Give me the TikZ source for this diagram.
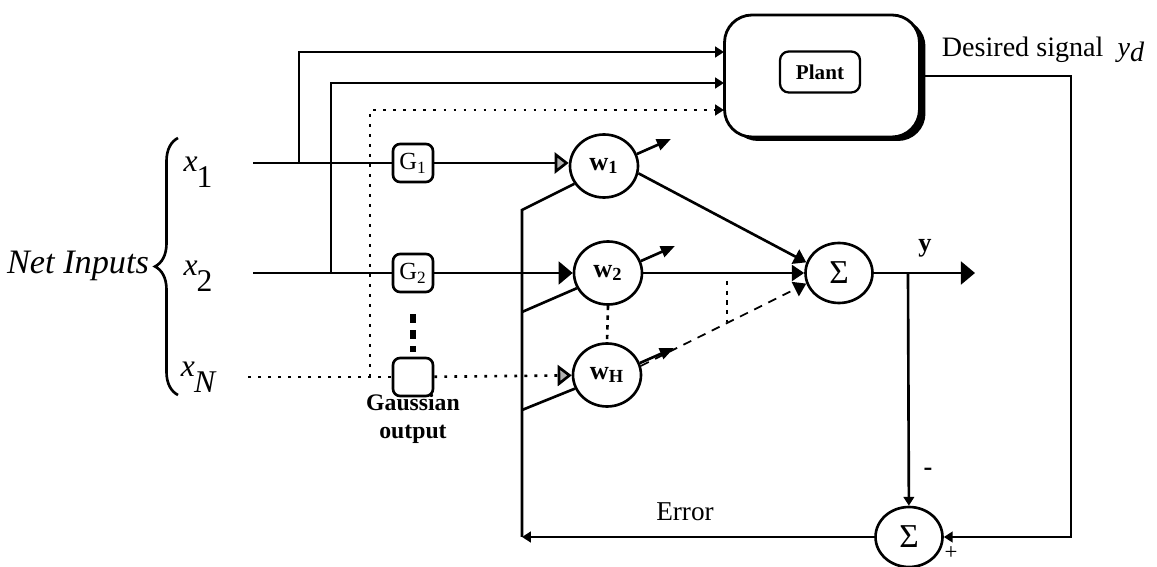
\documentclass[tikz,border=0pt]{standalone}
\usepackage{fontspec}
\setmainfont{Liberation Serif}
\usetikzlibrary{arrows.meta,shapes.geometric,shadows,decorations.pathreplacing}

% input label: raised x with its index on the baseline
\newcommand{\xlab}[1]{\fontsize{18}{18}\selectfont\raisebox{9pt}{\itshape x}\kern-0.5pt#1}

\begin{document}
\begin{tikzpicture}[x=0.02cm,y=-0.02cm,line width=1.5pt,
    neuron/.style={draw,ellipse,line width=1.5pt,minimum width=1.36cm,minimum height=1.26cm,inner sep=0pt,font=\fontsize{15}{15}\selectfont\bfseries},
    sumnode/.style={draw,ellipse,line width=1.5pt,minimum width=1.34cm,minimum height=1.2cm,inner sep=0pt,font=\fontsize{19}{19}\selectfont},
    gbox/.style={draw,rounded corners=4pt,line width=1.5pt,minimum width=0.8cm,minimum height=0.76cm,inner sep=0pt,font=\fontsize{14}{14}\selectfont},
    smalltri/.style={-{Triangle[length=5pt,width=6pt]}},
    bigtri/.style={-{Triangle[length=8pt,width=13pt]}},
    hatchtri/.style={-{Triangle[length=8pt,width=12pt,fill=gray!60]}},
    sumtri/.style={-{Triangle[length=7pt,width=9pt]}},
    adjtri/.style={-{Triangle[length=8pt,width=6.5pt]}},
    dots/.style={dash pattern=on 1.6pt off 4.1pt},
    ]
    \useasboundingbox (0,0) rectangle (1157,567);
    % inputs
    \node (netin) at (78,266) {\fontsize{19.5}{20}\selectfont\itshape Net Inputs};
    \draw [decorate,decoration={brace,amplitude=0.46cm}] (178,395) -- (178,138);
    \node (x1) at (198,172) {\xlab{1}};
    \node (x2) at (198,276) {\xlab{2}};
    \node (xN) at (198,377) {\xlab{\itshape N}};
    \coordinate (in1) at (253,163);
    \coordinate (in2) at (253,273);
    \coordinate (inN) at (248,377);
    % gaussian boxes
    \node [gbox] (G1) at (413,163) {G\textsubscript{1}};
    \node [gbox] (G2) at (413,273) {G\textsubscript{2}};
    \node [gbox] (GN) at (413,377) {};
    \node [align=center,font=\fontsize{13.5}{16}\selectfont\bfseries] (gauss) at (413,419) {Gaussian\\output};
    % weights and sums
    \node [neuron] (w1) at (604,166) {w\textsubscript{1}};
    \node [neuron] (w2) at (608,273) {w\textsubscript{2}};
    \node [neuron] (wH) at (607,375) {w\textsubscript{H}};
    \node [sumnode] (sum1) at (839,273) {Σ};
    \node [sumnode] (sum2) at (909,537) {Σ};
    % plant
    \node [draw,rounded corners=0.55cm,minimum width=3.9cm,minimum height=2.44cm,line width=1.6pt,fill=white,
        drop shadow={shadow xshift=0.12cm,shadow yshift=-0.08cm,opacity=1,fill=black}] (plant) at (822,76) {};
    \node [draw,rounded corners=5pt,minimum width=1.6cm,minimum height=0.82cm,line width=1.3pt,font=\fontsize{12}{12}\selectfont\bfseries] (plantlab) at (820,72) {Plant};
    % input lines
    \draw (in1) -- (G1);
    \draw (in2) -- (G2);
    \draw [dots] (inN) -- (GN);
    % feeds to plant
    \coordinate (b1) at (299,163);
    \coordinate (b2) at (331,273);
    \coordinate (bN) at (370,377);
    \coordinate (p1) at (724,52);
    \coordinate (p2) at (724,83);
    \coordinate (p3) at (724,110);
    \draw [smalltri] (b1) |- (p1);
    \draw [smalltri] (b2) |- (p2);
    \draw [dots,smalltri] (bN) |- (p3);
    % gaussian to weights
    \draw [hatchtri] (G1.east) -- (G1.east -| w1.west);
    \draw [bigtri] (G2) -- (w2);
    \draw [dots,hatchtri] (GN) -- (wH);
    \draw [line width=3pt,dash pattern=on 5pt off 4pt,shorten <=0.42cm,shorten >=0.1cm] (G2.south) -- (GN.north);
    \draw [dash pattern=on 2.5pt off 3pt] (w2.south) -- (wH.north);
    % adjustable weights
    \draw [adjtri] (w1.20) -- ++(34,-15);
    \draw [adjtri] (w2.20) -- ++(34,-15);
    \draw [adjtri] (wH.20) -- ++(34,-15);
    % weights to sum
    \draw [sumtri] (w1.-12) -- (sum1.162);
    \draw [sumtri] (w2) -- (sum1);
    \draw [sumtri,line width=1pt,dash pattern=on 5pt off 4pt] (wH.15) -- (sum1.198);
    \coordinate (m1) at (727,281);
    \coordinate (m2) at (727,322);
    \draw [dash pattern=on 2.5pt off 3pt] (m1) -- (m2);
    % output and error
    \coordinate (yend) at (975,273);
    \coordinate (ytap) at (908,273);
    \coordinate (ydturn) at (1071,537);
    \draw [bigtri] (sum1) -- (yend);
    \draw [smalltri] (ytap) -- (sum2);
    \draw [smalltri] (plant.east) -| (ydturn) -- (sum2);
    \coordinate (e0) at (522,537);
    \coordinate (e1) at (522,210);
    \coordinate (e2) at (522,312);
    \coordinate (e3) at (522,410);
    \draw [smalltri] (sum2) -- (e0);
    \draw (e0) -- (e1) -- (w1.211);
    \draw (e2) -- (w2.206);
    \draw (e3) -- (wH.203);
    % labels
    \node (ydlab) at (1043,50) {\fontsize{16}{16}\selectfont Desired signal\ \ \textit{y}\raisebox{-3pt}{\textit{d}}};
    \node (ylab) at (925,248) {\fontsize{15}{15}\selectfont\bfseries y};
    \node (minus) at (928,472) {\fontsize{15}{15}\selectfont\bfseries -};
    \node [inner sep=1pt] (plus) at (951,553) {\fontsize{13}{13}\selectfont +};
    \node (errlab) at (685,512) {\fontsize{15.5}{15.5}\selectfont Error};
\end{tikzpicture}
\end{document}
